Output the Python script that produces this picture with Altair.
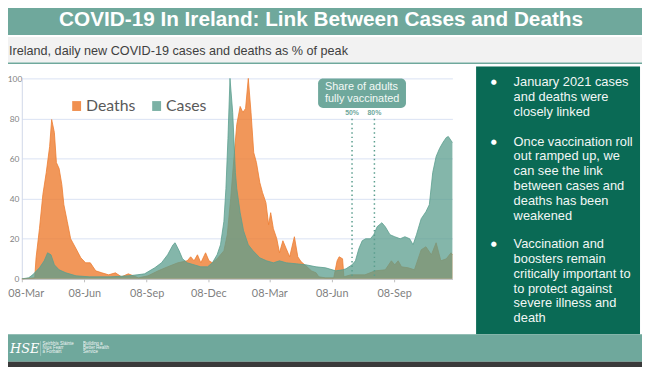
import altair as alt
import pandas as pd

START = pd.Timestamp("2020-03-08")

# days since 08-Mar-2020 and % of peak
death_days = [0, 19, 21, 26, 31, 36, 41, 44, 48, 51,
              55, 59, 62, 67, 72, 80, 87, 94, 101, 109,
              118, 128, 138, 147, 157, 172, 186, 201, 215, 230,
              244, 249, 254, 259, 264, 271, 276, 281, 288, 298,
              303, 308, 313, 317, 322, 326, 330, 334, 338, 342,
              346, 351, 355, 360, 364, 367, 371, 376, 380, 385,
              390, 395, 402, 407, 412, 419, 427, 434, 438, 448,
              460, 465, 468, 473, 475, 485, 506, 521, 536, 545,
              550, 555, 560, 570, 579, 589, 596, 604, 611, 618,
              626, 633, 635]
death_vals = [0, 0.5, 10.5, 25, 42, 53, 66, 79.5, 73, 58,
              55, 47, 37, 28.6, 20, 15, 10.5, 8, 8, 4,
              3, 2, 3, 1, 2.5, 0.5, 1.5, 4, 6, 8,
              9, 11, 9, 12, 8, 13, 9, 8, 10, 14,
              22, 40, 61, 77, 86, 83, 85, 100, 83, 63,
              58, 48, 43, 38, 27, 33, 25, 20, 13, 19,
              15, 11, 21, 11, 8.5, 6.5, 4, 3, 1, 0.5,
              0.5, 9, 11, 10, 1, 2, 2, 4, 4.5, 9,
              7, 9, 6, 5.5, 4.5, 14.5, 16, 12, 18, 9,
              10, 13, 12]

case_days = [0, 10, 16, 26, 33, 38, 43, 48, 55, 65,
             80, 100, 130, 157, 170, 181, 196, 206, 215, 223,
             226, 232, 237, 244, 254, 264, 274, 281, 288, 293,
             298, 301, 304, 307, 311, 315, 317, 322, 327, 334,
             341, 351, 361, 371, 380, 390, 405, 419, 434, 448,
             463, 473, 478, 487, 492, 497, 502, 507, 514, 519,
             524, 531, 536, 543, 550, 558, 565, 572, 577, 582,
             589, 596, 601, 606, 611, 616, 621, 626, 629, 633,
             635]
case_vals = [0, 0.5, 2, 5.5, 9, 13, 12, 7, 4.5, 3,
             1.5, 1, 1, 1.5, 2, 2.5, 5.5, 8, 12, 17,
             18, 14, 10, 8, 7, 6, 6, 8, 12, 17,
             28.6, 45, 70, 100, 83, 53, 45, 33, 24, 17,
             14, 10.5, 9, 8, 9, 8, 7.5, 7, 6, 5.5,
             4, 4.5, 5, 7, 9, 15, 19, 20, 20, 22,
             26, 28, 26, 22, 21, 20, 21, 20, 17, 22,
             30, 33.5, 37, 53, 61, 65, 68, 70.5, 71, 69,
             68]

vacc_dates = ["2021-07-08", "2021-08-10"]
vacc_labels = ["50%", "80%"]

tick_dates = [(2020, 3), (2020, 6), (2020, 9), (2020, 12), (2021, 3), (2021, 6), (2021, 9)]
y_ticks = [0, 20, 40, 60, 80, 100]

title_text = "COVID-19 In Ireland: Link Between Cases and Deaths"
subtitle_text = "Ireland, daily new COVID-19 cases and deaths as % of peak"
bullets = [
    ["January 2021 cases", "and deaths were", "closely linked"],
    ["Once vaccination roll", "out ramped up, we", "can see the link",
     "between cases and", "deaths has been", "weakened"],
    ["Vaccination and", "boosters remain", "critically important to",
     "to protect against", "severe illness and", "death"],
]

deaths = pd.DataFrame({"date": START + pd.to_timedelta(death_days, unit="D"), "val": death_vals})
cases = pd.DataFrame({"date": START + pd.to_timedelta(case_days, unit="D"), "val": case_vals})
vacc = pd.DataFrame({"date": pd.to_datetime(vacc_dates), "label": vacc_labels})
dummy = pd.DataFrame({"k": [0]})

TEAL_BAR = "#6FA89C"
PANEL = "#0A6A55"
ORANGE = "#ED7D31"
TEAL = "#5B9E8E"
SANS = "Liberation Sans"

xscale = alt.Scale(domain=[alt.DateTime(year=2020, month=3, date=8),
                           alt.DateTime(year=2021, month=12, date=3)])
yscale = alt.Scale(domain=[0, 100], nice=False)


def box(x, x2, y, y2, color, radius=0, opacity=1.0):
    return alt.Chart(dummy).mark_rect(color=color, cornerRadius=radius, opacity=opacity).encode(
        x=alt.value(x), x2=alt.value(x2), y=alt.value(y), y2=alt.value(y2))


def txt(s, x, y, size, color, font=SANS, weight="normal", align="left", style="normal", opacity=1.0):
    return alt.Chart(dummy).mark_text(text=s, fontSize=size, color=color, font=font,
                                      fontWeight=weight, align=align, baseline="middle",
                                      fontStyle=style, opacity=opacity).encode(
        x=alt.value(x), y=alt.value(y))


layers = []

# data areas (the deaths layer carries the shared axes)
death_area = alt.Chart(deaths).mark_area(
    color=ORANGE, opacity=0.8, line={"color": ORANGE, "strokeWidth": 0.8}).encode(
    x=alt.X("date:T", scale=xscale, title=None,
            axis=alt.Axis(values=[alt.DateTime(year=y, month=m, date=8) for y, m in tick_dates],
                          format="%d-%b", labelFont="Lato", labelFontSize=11, labelColor="#7F7F7F",
                          labelFlush=False, labelOverlap=False, grid=False,
                          labelOffset={"condition": {"test": "datum.index === 0", "value": 4}, "value": 0},
                          domainColor="#BFBFBF", tickColor="#BFBFBF", tickSize=3, labelPadding=6)),
    y=alt.Y("val:Q", scale=yscale, title=None,
            axis=alt.Axis(values=y_ticks, labelFont="Lato", labelFontSize=8.5, labelColor="#7F7F7F",
                          ticks=False,
                          labelPadding={"condition": {"test": "datum.value === 100", "value": 0}, "value": 3},
                          gridColor="#D9E2F3", domainColor="#D0D8E8",
                          labelFlush=False)))
case_area = alt.Chart(cases).mark_area(
    color=TEAL, opacity=0.75, line={"color": TEAL, "strokeWidth": 0.8}).encode(
    x=alt.X("date:T", scale=xscale),
    y=alt.Y("val:Q", scale=yscale))
layers += [death_area, case_area]

# slide background pieces (outside the plot region)
layers.append(box(-30, 640, -80, -44, TEAL_BAR))
layers.append(box(-30, 640, -42, -16, "#F2F2F2"))
layers.append(box(-30, 640, -16, -14.5, TEAL_BAR))
layers.append(box(460, 626, -12, 259, PANEL))
layers.append(box(-30, 640, 259, 287, TEAL_BAR))
layers.append(box(-30, 640, 287, 295, "#3A3A3A"))

# vaccination markers
layers.append(alt.Chart(vacc).mark_rule(color=TEAL, strokeDash=[1.5, 3], strokeWidth=1.5).encode(
    x=alt.X("date:T", scale=xscale), y=alt.value(41), y2=alt.value(203)))
layers.append(alt.Chart(vacc).mark_text(fontSize=7, fontWeight="bold", color=TEAL_BAR, font=SANS,
                                         baseline="middle").encode(
    x=alt.X("date:T", scale=xscale), y=alt.value(35), text="label:N"))
layers.append(box(300, 389, 0, 30, TEAL_BAR, radius=5))
layers.append(txt("Share of adults", 307, 9, 11, "#F4F9F7"))
layers.append(txt("fully vaccinated", 307, 21, 11, "#F4F9F7"))

# legend
layers.append(box(51, 60, 23, 33, ORANGE, opacity=0.85))
layers.append(txt("Deaths", 65, 28.5, 16, "#595959", font="Lato"))
layers.append(box(132, 141, 23, 33, TEAL, opacity=0.8))
layers.append(txt("Cases", 146, 28.5, 16, "#595959", font="Lato"))

# titles
layers.append(txt(title_text, 303, -59, 21, "white", weight="bold", align="center"))
layers.append(txt(subtitle_text, -13, -28, 12.8, "#404040"))

# panel bullets
bullet_starts = [4, 64, 168]
for start, lines in zip(bullet_starts, bullets):
    layers.append(txt("\u25CF", 478, start, 7, "white", font="DejaVu Sans", align="center"))
    for i, line in enumerate(lines):
        layers.append(txt(line, 498, start + 15 * i, 13, "#F2F7F5"))

# footer logo + text
layers.append(txt("HSE", 3, 274, 13, "white", font="DejaVu Serif", style="italic", align="center"))
layers.append(alt.Chart(dummy).mark_rule(color="white", opacity=0.6, strokeWidth=0.5).encode(
    x=alt.value(19), y=alt.value(266), y2=alt.value(281)))
for i, line in enumerate(["Seirbhís Sláinte", "Níos Fearr", "á Forbairt"]):
    layers.append(txt(line, 21, 269 + 4 * i, 4.5, "white", opacity=0.9))
for i, line in enumerate(["Building a", "Better Health", "Service"]):
    layers.append(txt(line, 62, 269 + 4 * i, 4.5, "white", opacity=0.9))

chart = alt.layer(*layers).properties(
    width=436, height=203,
    padding={"left": 14, "top": 69, "right": 192, "bottom": 87},
    autosize="none", background="white",
).configure_view(stroke=None)

chart.save("out.html", embed_options={"renderer": "svg", "actions": False})
